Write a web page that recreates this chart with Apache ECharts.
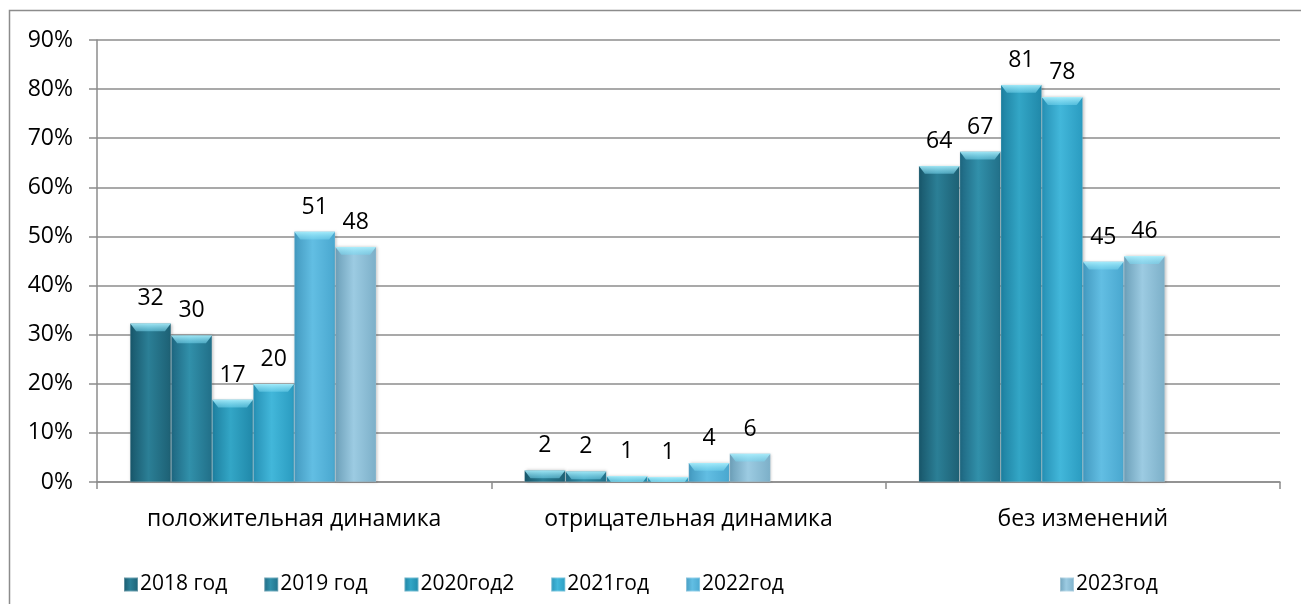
<!DOCTYPE html>
<html>
<head>
<meta charset="utf-8">
<script src="https://cdn.jsdelivr.net/npm/echarts@6/dist/echarts.min.js"></script>
<style>
html,body{margin:0;padding:0;background:#fff;}
#chart{width:1301px;height:604px;}
</style>
</head>
<body>
<div id="chart"></div>
<script>
const categories = ['положительная динамика', 'отрицательная динамика', 'без изменений'];
const seriesNames = ['2018 год', '2019 год', '2020год2', '2021год', '2022год', '2023год'];
const v2018 = [32.3, 2.4, 64.4];
const v2019 = [29.9, 2.2, 67.3];
const v2020 = [16.8, 1.2, 80.9];
const v2021 = [20.0, 1.0, 78.4];
const v2022 = [51.0, 3.9, 44.9];
const v2023 = [47.9, 5.8, 46.0];
const vEmpty = [null, null, null];
const yTicks = [0, 10, 20, 30, 40, 50, 60, 70, 80, 90];

// two empty series occupy slots after 2023 (as in the source workbook)
const seriesValues = [v2018, v2019, v2020, v2021, v2022, v2023, vEmpty, vEmpty];
const allNames = seriesNames.concat(['_empty1', '_empty2']);
const palette = [
  ['#1d6074', '#2b7f96', '#18566a'],
  ['#216f88', '#3190aa', '#1e6680'],
  ['#2088a9', '#33a6c6', '#1d7f9f'],
  ['#2a9bc0', '#42b7da', '#2690b4'],
  ['#49a7cf', '#62bee3', '#4399bf'],
  ['#7cafc8', '#9ccbe2', '#6c9fb8'],
  ['#999', '#999', '#999'],
  ['#999', '#999', '#999']
];
function grad(c) {
  return new echarts.graphic.LinearGradient(0, 0, 1, 0, [
    {offset: 0, color: c[2]},
    {offset: 0.45, color: c[1]},
    {offset: 1, color: c[0]}
  ]);
}
const FONT = 'Open Sans';
const GAP = '16.75%';
const chart = echarts.init(document.getElementById('chart'), null, {renderer: 'canvas'});
const barSeries = allNames.map((name, i) => ({
  name: name,
  type: 'bar',
  data: seriesValues[i],
  barGap: '0%',
  barCategoryGap: GAP,
  z: 2,
  itemStyle: {
    color: grad(palette[i]),
    borderColor: 'rgba(255,255,255,0.3)',
    borderWidth: 0.5,
    shadowColor: 'rgba(0,0,0,0.25)',
    shadowBlur: 3,
    shadowOffsetX: 1
  },
  label: {
    show: true,
    position: 'top',
    distance: 13,
    color: '#000',
    fontFamily: FONT,
    fontSize: 23,
    formatter: p => (p.value == null ? '' : Math.round(p.value))
  }
}));
const capSeries = allNames.map((name, i) => ({
  name: 'cap' + i,
  type: 'pictorialBar',
  data: seriesValues[i],
  barGap: '0%',
  barCategoryGap: GAP,
  symbol: 'path://M0,0 L20,0 L17,2 L3,2 Z',
  symbolSize: ['100%', 8],
  symbolPosition: 'end',
  symbolOffset: [0, 0],
  symbolClip: true,
  z: 3,
  silent: true,
  itemStyle: {
    color: new echarts.graphic.LinearGradient(0, 0, 0, 1, [
      {offset: 0, color: 'rgba(175,242,255,0.9)'},
      {offset: 1, color: 'rgba(120,215,240,0.5)'}
    ])
  }
}));

chart.setOption({
  animation: false,
  textStyle: {fontFamily: FONT},
  graphic: [{
    type: 'rect',
    shape: {x: 9.5, y: 10.5, width: 1400, height: 700},
    style: {fill: 'none', stroke: '#8c8c8c', lineWidth: 1.5},
    silent: true
  }],
  legend: [{
    data: seriesNames.slice(0, 5),
    left: 118,
    top: 569,
    itemWidth: 14,
    itemHeight: 14,
    itemGap: 36,
    icon: 'rect',
    textStyle: {fontFamily: FONT, fontSize: 21, color: '#000', padding: [0, 0, 0, -3]}
  }, {
    data: [seriesNames[5]],
    left: 1054,
    top: 569,
    itemWidth: 14,
    itemHeight: 14,
    icon: 'rect',
    textStyle: {fontFamily: FONT, fontSize: 21, color: '#000', padding: [0, 0, 0, -3]}
  }],
  grid: {left: 97, right: 21, top: 40, bottom: 122, containLabel: false},
  xAxis: {
    type: 'category',
    data: categories,
    axisLine: {lineStyle: {color: '#8c8c8c', width: 1.5}},
    axisTick: {show: true, length: 7, lineStyle: {color: '#8c8c8c', width: 1.5}},
    axisLabel: {color: '#000', fontFamily: FONT, fontSize: 23, margin: 26}
  },
  yAxis: {
    type: 'value',
    min: yTicks[0],
    max: yTicks[yTicks.length - 1],
    interval: 10,
    axisLine: {show: true, lineStyle: {color: '#8c8c8c', width: 1.5}},
    axisTick: {show: true, length: 8, lineStyle: {color: '#8c8c8c', width: 1.5}},
    splitLine: {lineStyle: {color: '#8c8c8c', width: 1.5}},
    axisLabel: {color: '#000', fontFamily: FONT, fontSize: 23, margin: 24, formatter: '{value}%'}
  },
  series: barSeries.concat(capSeries)
});
</script>
</body>
</html>
